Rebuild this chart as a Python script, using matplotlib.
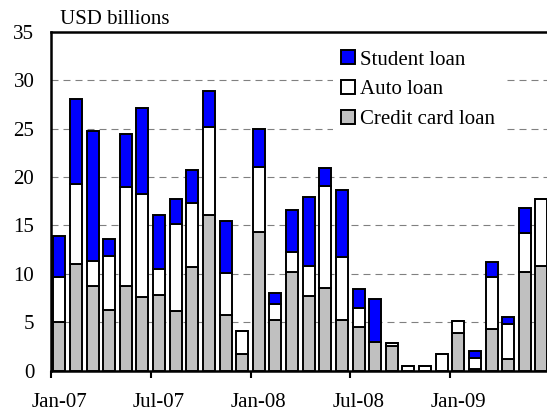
import numpy as np
import matplotlib.pyplot as plt

plt.rcParams['font.family'] = ['Liberation Serif', 'DejaVu Serif']

# Monthly data, Jan-07 .. Jun-09 (USD billions)
months = ['Jan-07', 'Feb-07', 'Mar-07', 'Apr-07', 'May-07', 'Jun-07',
          'Jul-07', 'Aug-07', 'Sep-07', 'Oct-07', 'Nov-07', 'Dec-07',
          'Jan-08', 'Feb-08', 'Mar-08', 'Apr-08', 'May-08', 'Jun-08',
          'Jul-08', 'Aug-08', 'Sep-08', 'Oct-08', 'Nov-08', 'Dec-08',
          'Jan-09', 'Feb-09', 'Mar-09', 'Apr-09', 'May-09', 'Jun-09']
credit_card = [5.0, 11.0, 8.75, 6.3, 8.75, 7.6, 7.8, 6.2, 10.75, 16.1, 5.75, 1.7,
               14.3, 5.2, 10.2, 7.7, 8.5, 5.2, 4.5, 3.0, 2.5, 0.0, 0.0, 0.0,
               3.85, 0.15, 4.25, 1.15, 10.15, 10.8]
auto = [4.7, 8.3, 2.55, 5.55, 10.25, 10.6, 2.7, 8.9, 6.55, 9.1, 4.3, 2.4,
        6.7, 1.7, 2.1, 3.1, 10.6, 6.5, 2.0, 0.0, 0.4, 0.5, 0.5, 1.7,
        1.3, 1.15, 5.45, 3.65, 4.05, 6.95]
student = [4.15, 8.8, 13.4, 1.75, 5.4, 8.9, 5.6, 2.65, 3.4, 3.65, 5.35, 0.0,
           3.95, 1.1, 4.3, 7.1, 1.8, 7.0, 1.95, 4.4, 0.0, 0.0, 0.0, 0.0,
           0.0, 0.7, 1.5, 0.7, 2.6, 0.0]
label_months = ['Jan-07', 'Jul-07', 'Jan-08', 'Jul-08', 'Jan-09']

credit_card = np.array(credit_card)
auto = np.array(auto)
student = np.array(student)
x = np.arange(len(months))

fig = plt.figure(figsize=(5.47, 4.16), dpi=100)
ax = fig.add_axes([51 / 547, 1 - 370.6 / 416, 498.75 / 547, (370.6 - 31.7) / 416])

w = 0.72
kw = dict(width=w, edgecolor='black', linewidth=1.4, zorder=3)
ax.bar(x, credit_card, color='#c0c0c0', label='Credit card loan', **kw)
ax.bar(x, auto, bottom=credit_card, color='white', label='Auto loan', **kw)
ax.bar(x, student, bottom=credit_card + auto, color='#0000ff', label='Student loan', **kw)

ax.set_xlim(-0.5, len(months) - 0.5)
ax.set_ylim(0, 35)
ax.set_yticks(np.arange(0, 36, 5))
for v in range(5, 35, 5):
    ax.axhline(v, color='#808080', lw=0.8, ls=(0, (6.3, 4.5)), zorder=1)

# boundary ticks every 6 months, labels on the category
ax.set_xticks(np.arange(-0.5, len(months), 6))
ax.set_xticklabels([])
ax.tick_params(axis='x', which='major', direction='out', length=5, width=1.5)
ax.set_xticks([months.index(m) for m in label_months], minor=True)
ax.set_xticklabels(label_months, minor=True)
ax.tick_params(axis='x', which='minor', length=0, pad=16, labelsize=15)
ax.tick_params(axis='y', length=0, pad=12, labelsize=15)

for s in ['left', 'bottom', 'top']:
    ax.spines[s].set_linewidth(1.8)
ax.spines['right'].set_visible(False)

fig.text(60 / 547, 1 - 24 / 416, 'USD billions', fontsize=15, va='baseline')

h, l = ax.get_legend_handles_labels()
leg = ax.legend(h[::-1], l[::-1], loc='upper left',
                bbox_to_anchor=(333 / 547, 1 - 42 / 416), bbox_transform=fig.transFigure,
                fontsize=15, handlelength=0.65, handleheight=0.65, handletextpad=0.25,
                labelspacing=0.5, borderpad=0.4, borderaxespad=0,
                frameon=True, fancybox=False, edgecolor='none', facecolor='white', framealpha=1)
leg.set_zorder(5)

fig.savefig('out.png', dpi=100)
